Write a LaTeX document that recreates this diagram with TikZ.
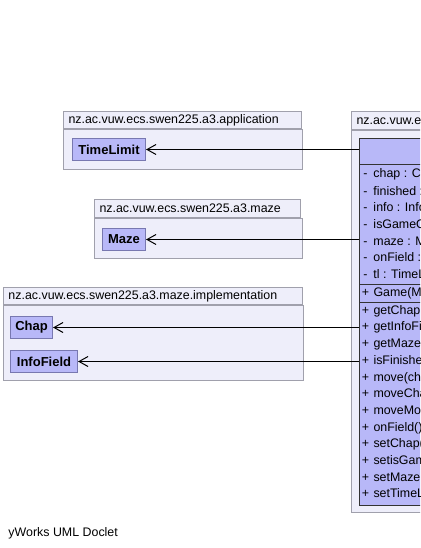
\documentclass[tikz,border=0pt]{standalone}
\usepackage{fontspec}
\setmainfont{Liberation Sans}
\usepackage{tikz}
\usetikzlibrary{arrows.meta, positioning, calc}
\definecolor{pkgfill}{RGB}{238,238,250}
\definecolor{pkgline}{RGB}{160,160,172}
\definecolor{clsfill}{RGB}{184,184,248}
\definecolor{clsline}{RGB}{120,120,176}
\tikzset{
  pkgbody/.style={draw=pkgline, fill=pkgfill, rectangle, inner sep=0pt, anchor=north west},
  pkgtab/.style={draw=pkgline, fill=pkgfill, rectangle, anchor=south west, minimum height=17pt, inner xsep=5pt, inner ysep=0pt, align=left, font=\fontsize{12.4}{14}\selectfont},
  clsbox/.style={draw=clsline, fill=clsfill, rectangle, anchor=north west, minimum height=22pt, inner sep=0pt, font=\fontsize{13}{15}\selectfont\bfseries},
  member/.style={anchor=west, inner sep=0pt, font=\fontsize{12.4}{14}\selectfont},
  dep/.style={draw=black, line width=1pt, -{Straight Barb[length=9pt, width=10pt]}}
}

\begin{document}
\begin{tikzpicture}[x=1pt, y=-1pt, line width=1pt]
\useasboundingbox (0,0) rectangle (420,548);
\clip (0,0) rectangle (420,548);

\node[pkgbody, minimum width=239pt, minimum height=40pt] (appbody) at (63,129) {};
\node[pkgtab, text width=228pt] (apptab) at (appbody.north west) {nz.ac.vuw.ecs.swen225.a3.application};
\node[clsbox, minimum width=73pt] (timelimit) at (72,138) {TimeLimit};

\node[pkgbody, minimum width=208pt, minimum height=40pt] (mazebody) at (94,218) {};
\node[pkgtab, text width=196pt, minimum height=18pt] (mazetab) at (mazebody.north west) {nz.ac.vuw.ecs.swen225.a3.maze};
\node[clsbox, minimum width=43pt] (maze) at (102,228) {Maze};

\node[pkgbody, minimum width=300pt, minimum height=75pt] (implbody) at (3,305) {};
\node[pkgtab, text width=289pt] (impltab) at (implbody.north west) {nz.ac.vuw.ecs.swen225.a3.maze.implementation};
\node[clsbox, minimum width=42pt] (chap) at (10,316) {Chap};
\node[clsbox, minimum width=67pt] (infofield) at (10,350) {InfoField};

\node[pkgbody, minimum width=200pt, minimum height=382pt] (gamebody) at (351,130) {};
\node[pkgtab, text width=190pt, minimum height=18pt] (gametab) at (gamebody.north west) {nz.ac.vuw.ecs.swen225.a3};
\node[clsbox, draw=black!80, minimum width=180pt, minimum height=367pt] (game) at (359,138) {};
\draw[black!80] (game.north west) ++(0,27) -- ++(180,0);
\draw[black!80] (game.north west) ++(0,146) -- ++(180,0);
\draw[black!80] (game.north west) ++(0,164) -- ++(180,0);

\foreach \m [count=\i from 0] in {chap : Chap, finished : boolean, info : InfoField, isGameOver : boolean, maze : Maze, onField : boolean, tl : TimeLimit}
  \node[member] (attr\i) at ($(game.north west)+(1,36+16.7*\i)$) {\makebox[10pt]{-}\hspace{3pt}\m};
\node[member] (ctor) at ($(game.north west)+(1,155)$) {\makebox[10pt]{+}\hspace{3pt}Game(Maze)};
\foreach \m [count=\i from 0] in {getChap(), getInfoField(), getMaze(), isFinished(), move(char), moveChap(), moveMonster(), onField(), setChap(), setisGameOver(), setMaze(), setTimeLimit()}
  \node[member] (meth\i) at ($(game.north west)+(1,173+16.7*\i)$) {\makebox[10pt]{+}\hspace{3pt}\m};

\draw[dep] (game.west |- timelimit.east) -- (timelimit.east);
\draw[dep] (game.west |- maze.east) -- (maze.east);
\draw[dep] (game.west |- chap.east) -- (chap.east);
\draw[dep] (game.west |- infofield.east) -- (infofield.east);

\node[member, anchor=base west] (footer) at (8,536) {yWorks UML Doclet};
\end{tikzpicture}
\end{document}
